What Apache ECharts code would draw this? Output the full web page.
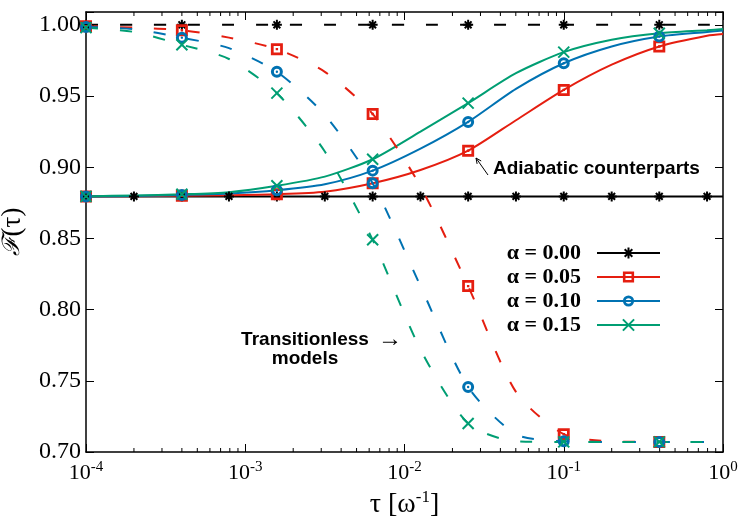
<!DOCTYPE html>
<html>
<head>
<meta charset="utf-8">
<script src="https://cdn.jsdelivr.net/npm/echarts@6/dist/echarts.min.js"></script>
<style>
html, body { margin: 0; padding: 0; background: #fff; }
#chart-container { width: 750px; height: 525px; }
</style>
</head>
<body>
<div id="chart-container"></div>
<script>
var dom = document.getElementById('chart-container');
var myChart = echarts.init(dom, null, {
    renderer: 'canvas',
    useDirtyRect: false
});

// tau grid, 0.3 decade apart
var tau = [1e-4, 2e-4, 4e-4, 7.9e-4, 1.58e-3, 3.16e-3, 6.31e-3, 1.26e-2,
           2.51e-2, 5.01e-2, 1e-1, 2e-1, 3.98e-1, 7.94e-1, 1];

var alphaNames = ['α = 0.00', 'α = 0.05', 'α = 0.10', 'α = 0.15'];

// adiabatic counterparts (solid)
var adiab000 = [0.8795, 0.8795, 0.8795, 0.8795, 0.8795, 0.8795, 0.8795, 0.8795,
                0.8795, 0.8795, 0.8795, 0.8795, 0.8795, 0.8795, 0.8795];
var adiab005 = [0.8795, 0.8796, 0.8800, 0.8803, 0.8810, 0.8828, 0.8887, 0.8980,
                0.9116, 0.9330, 0.9543, 0.9720, 0.9848, 0.9923, 0.9935];
var adiab010 = [0.8795, 0.8798, 0.8805, 0.8815, 0.8838, 0.8880, 0.8976, 0.9130,
                0.9318, 0.9550, 0.9730, 0.9848, 0.9918, 0.9950, 0.9960];
var adiab015 = [0.8795, 0.8802, 0.8810, 0.8825, 0.8870, 0.8934, 0.9056, 0.9250,
                0.9450, 0.9660, 0.9808, 0.9895, 0.9941, 0.9962, 0.9970];

// transitionless models (dashed)
var trans000 = [1, 1, 1, 1, 1, 1, 1, 1, 1, 1, 1, 1, 1, 1, 1];
var trans005 = [0.9990, 0.9980, 0.9962, 0.9910, 0.9829, 0.9670, 0.9374, 0.8865,
                0.8165, 0.7422, 0.7125, 0.7075, 0.7071, 0.7071, 0.7071];
var trans010 = [0.9985, 0.9970, 0.9910, 0.9836, 0.9670, 0.9367, 0.8887, 0.8165,
                0.7457, 0.7125, 0.7075, 0.7071, 0.7071, 0.7071, 0.7071];
var trans015 = [0.9980, 0.9950, 0.9860, 0.9760, 0.9520, 0.9110, 0.8490, 0.7720,
                0.7200, 0.7075, 0.7071, 0.7071, 0.7071, 0.7071, 0.7071];

var minorMult = [2, 3, 4, 5, 6, 7, 8, 9];
var decades = [1e-4, 1e-3, 1e-2, 1e-1];

var yMin = 0.70, yMax = 1.009;

var colors = ['#000000', '#e51e10', '#0072b2', '#009e73'];
var symAst = 'path://M0,5L10,5M5,0L5,10M1.6,1.6L8.4,8.4M8.4,1.6L1.6,8.4';
var symSq = 'path://M0,0H10V10H0Z M2.3,2.3V7.7H7.7V2.3Z M4,4H6V6H4Z';
var symCirc = 'path://M5,0A5,5,0,1,1,5,10A5,5,0,1,1,5,0Z M5,2.5A2.5,2.5,0,1,0,5,7.5A2.5,2.5,0,1,0,5,2.5Z M5,4A1,1,0,1,1,5,6A1,1,0,1,1,5,4Z';
var symX = 'path://M0,0L10,10M10,0L0,10';
var symbols = [symAst, symSq, symCirc, symX];
var symSizes = [10, 12, 12, 11];
var symBorder = [2, 0, 0, 2];

var minorTicks = [];
decades.forEach(function (d) {
    minorMult.forEach(function (m) { minorTicks.push([m * d, yMin]); });
});

function makeSeries(i, ys, dashed, step) {
    return {
        type: 'line',
        name: alphaNames[i],
        data: tau.map(function (t, k) {
            if (k < 14 && k % step === 0) return [t, ys[k]];
            return { value: [t, ys[k]], symbol: 'none' };
        }),
        symbol: symbols[i],
        symbolSize: symSizes[i],
        showSymbol: true,
        smooth: 0.25,
        silent: true,
        lineStyle: { color: colors[i], width: 2, type: dashed ? [12, 22] : 'solid' },
        itemStyle: { color: colors[i], borderColor: colors[i], borderWidth: symBorder[i] },
        z: dashed ? 3 : 2
    };
}

var series = [
    makeSeries(0, adiab000, false, 1),
    makeSeries(1, adiab005, false, 2),
    makeSeries(2, adiab010, false, 2),
    makeSeries(3, adiab015, false, 2),
    makeSeries(0, trans000, true, 2),
    makeSeries(1, trans005, true, 2),
    makeSeries(2, trans010, true, 2),
    makeSeries(3, trans015, true, 2),
    {
        type: 'custom',
        name: 'minor',
        silent: true,
        clip: false,
        data: minorTicks,
        renderItem: function (params, api) {
            var x = api.value(0);
            var b = api.coord([x, yMin]);
            var t = api.coord([x, yMax]);
            return {
                type: 'group',
                children: [
                    { type: 'line', shape: { x1: b[0], y1: b[1], x2: b[0], y2: b[1] - 4 }, style: { stroke: '#000', lineWidth: 1 } },
                    { type: 'line', shape: { x1: t[0], y1: t[1], x2: t[0], y2: t[1] + 4 }, style: { stroke: '#000', lineWidth: 1 } }
                ]
            };
        }
    }
];

var serifFont = 'Liberation Serif';

var option = {
    animation: false,
    backgroundColor: '#fff',
    grid: { left: 86, right: 27, top: 12, bottom: 73, containLabel: false, outerBoundsMode: 'none' },
    legend: {
        data: alphaNames,
        orient: 'vertical',
        align: 'right',
        right: 84,
        top: 236,
        itemWidth: 63,
        itemHeight: 14,
        itemGap: 0,
        selectedMode: false,
        textStyle: {
            fontFamily: serifFont, fontWeight: 'bold', fontSize: 22,
            color: '#000', lineHeight: 24, padding: [0, 11, 0, 0]
        }
    },
    xAxis: [{
        type: 'log',
        logBase: 10,
        min: 1e-4,
        max: 1,
        name: '{a|τ [ω}{s|-1}{a|]}',
        nameLocation: 'middle',
        nameGap: 34,
        nameTextStyle: {
            rich: {
                a: { fontFamily: serifFont, fontSize: 28, color: '#000', lineHeight: 32 },
                s: { fontFamily: serifFont, fontSize: 17, color: '#000', verticalAlign: 'top', lineHeight: 32 }
            }
        },
        axisLine: { lineStyle: { color: '#000', width: 1.5 } },
        axisTick: { inside: true, length: 8, lineStyle: { color: '#000' } },
        splitLine: { show: false },
        axisLabel: {
            margin: 8,
            formatter: function (v) {
                var e = Math.round(Math.log10(v));
                return '{b|10}{s|' + e + '}';
            },
            rich: {
                b: { fontFamily: serifFont, fontSize: 22, color: '#000', lineHeight: 26 },
                s: { fontFamily: serifFont, fontSize: 15, color: '#000', verticalAlign: 'top', lineHeight: 26 }
            }
        }
    }, {
        type: 'log',
        logBase: 10,
        min: 1e-4,
        max: 1,
        position: 'top',
        axisLine: { lineStyle: { color: '#000', width: 1.5 } },
        axisTick: { inside: true, length: 8, lineStyle: { color: '#000' } },
        axisLabel: { show: false },
        splitLine: { show: false }
    }],
    yAxis: [{
        type: 'value',
        min: yMin,
        max: yMax,
        interval: 0.05,
        name: '{f|ℱ}{t|(τ)}',
        nameLocation: 'middle',
        nameGap: 60,
        nameTextStyle: {
            rich: {
                f: { fontFamily: 'DejaVu Serif', fontSize: 24, color: '#000', fontStyle: 'italic' },
                t: { fontFamily: serifFont, fontSize: 27, color: '#000' }
            }
        },
        axisLine: { show: true, lineStyle: { color: '#000', width: 1.5 } },
        axisTick: { show: true, inside: true, length: 8, lineStyle: { color: '#000' } },
        splitLine: { show: false },
        axisLabel: {
            margin: 5,
            formatter: function (v) {
                var r = Math.round(v * 20);
                if (Math.abs(v * 20 - r) > 1e-6 || v > 1.0001) return '';
                return '{n|' + v.toFixed(2) + '}';
            },
            rich: {
                n: { fontFamily: serifFont, fontSize: 24, color: '#000' }
            }
        }
    }, {
        type: 'value',
        min: yMin,
        max: yMax,
        interval: 0.05,
        position: 'right',
        axisLine: { show: true, lineStyle: { color: '#000', width: 1.5 } },
        axisTick: { show: true, inside: true, length: 8, lineStyle: { color: '#000' } },
        axisLabel: { show: false },
        splitLine: { show: false }
    }],
    graphic: [
        {
            type: 'text', x: 493, y: 169,
            style: {
                text: 'Adiabatic counterparts', fill: '#000',
                font: 'bold 19px "Liberation Sans"',
                textAlign: 'left', textVerticalAlign: 'middle',
                align: 'left', verticalAlign: 'middle'
            }
        },
        {
            type: 'line',
            shape: { x1: 488, y1: 175, x2: 476, y2: 158 },
            style: { stroke: '#000', lineWidth: 1 }
        },
        {
            type: 'polyline',
            shape: { points: [[477.1, 163.9], [476, 158], [481.2, 161]] },
            style: { stroke: '#000', lineWidth: 1, fill: null }
        },
        {
            type: 'text', x: 305, y: 349,
            style: {
                text: 'Transitionless\nmodels', fill: '#000',
                font: 'bold 19px "Liberation Sans"', lineHeight: 19,
                textAlign: 'center', textVerticalAlign: 'middle',
                align: 'center', verticalAlign: 'middle'
            }
        },
        {
            type: 'text', x: 390, y: 340,
            style: {
                text: '→', fill: '#000',
                font: '24px "Liberation Serif"',
                textAlign: 'center', textVerticalAlign: 'middle',
                align: 'center', verticalAlign: 'middle'
            }
        }
    ],
    series: series
};

if (option && typeof option === 'object') {
    myChart.setOption(option);
}

window.addEventListener('resize', myChart.resize);
</script>
</body>
</html>
